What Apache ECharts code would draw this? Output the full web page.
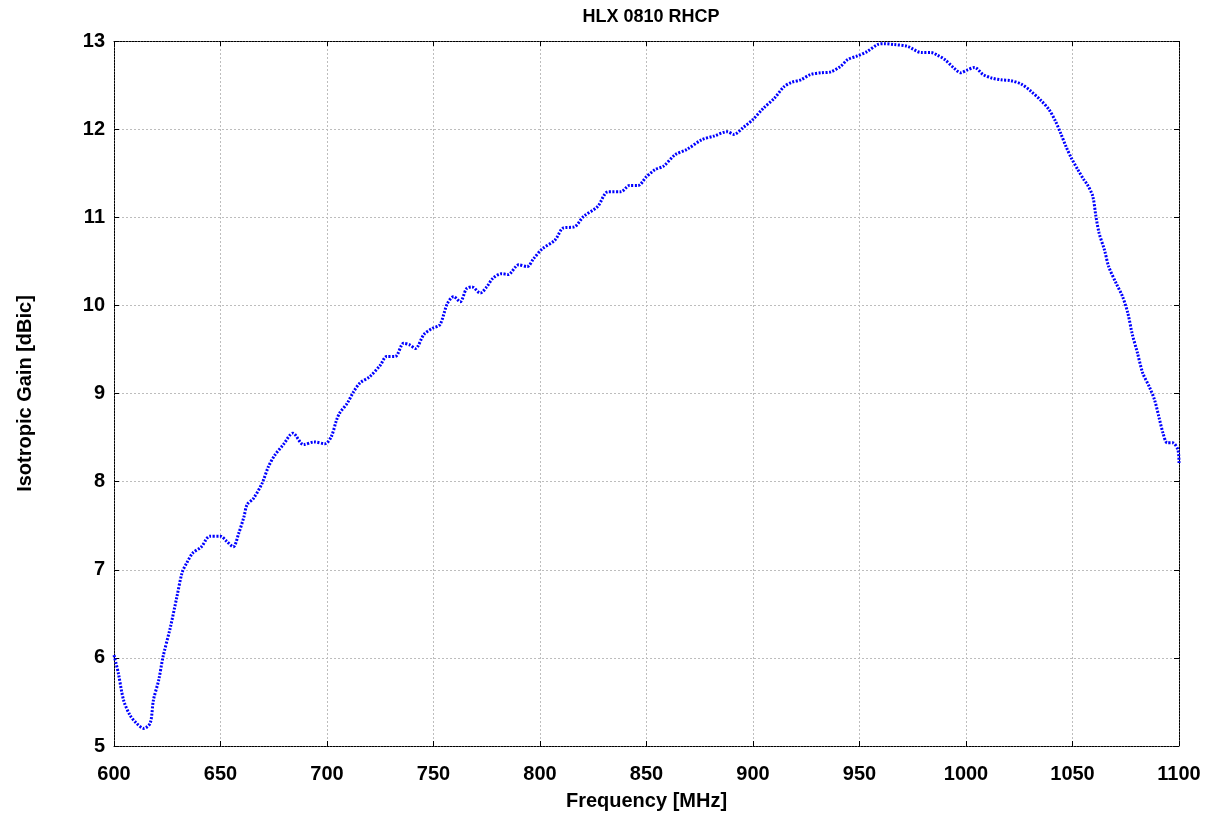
<!DOCTYPE html>
<html>
<head>
<meta charset="utf-8">
<title>HLX 0810 RHCP</title>
<script src="https://cdn.jsdelivr.net/npm/echarts@6/dist/echarts.min.js"></script>
<style>
    html, body { margin: 0; padding: 0; background: #fff; }
    #chart { width: 1218px; height: 817px; }
</style>
</head>
<body>
<div id="chart"></div>
<script>
const freqs = [
    600, 602, 604.5, 607.5, 610.5, 614, 617, 618.5, 621, 623, 626.5, 629.5, 632, 634, 637, 641, 645, 650,
    653, 656, 658.5, 661, 662.5, 665.5, 669.5, 672.5, 675.5, 679.5, 684, 689, 694, 699, 702, 704.5,
    706, 709.5, 712.5, 715.5, 720, 725, 728, 732, 736, 739, 741.5, 745.5, 749.5, 753, 756.5, 759.5,
    762.5, 765.5, 768, 772, 775, 778, 782, 785, 790, 794, 797, 801, 807, 811, 816, 820.5, 827, 832,
    838, 842, 846, 850, 854, 858, 863.5, 869, 876, 881.5, 888, 891, 895.5, 900, 905, 910, 914.5, 918,
    922.5, 927, 932, 936.5, 941, 944.5, 949, 953.5, 958.5, 961.5, 966, 972.5, 979, 983.5, 986.5, 990,
    994.5, 997.5, 1000.5, 1004, 1008, 1012, 1016.5, 1021, 1026, 1030.5, 1035, 1039, 1042, 1044.5,
    1047, 1049.5, 1052.5, 1055.5, 1057, 1059.5, 1061, 1062.5, 1065, 1067, 1070.5, 1073.5, 1076, 1078,
    1080.5, 1083, 1086, 1088.5, 1090.5, 1092.5, 1094.5, 1097, 1099.5, 1100
];
const gains = [
    6.03, 5.83, 5.52, 5.35, 5.26, 5.20, 5.26, 5.52, 5.75, 6.01, 6.35, 6.69, 6.97, 7.07, 7.19, 7.26, 7.38, 7.38,
    7.32, 7.26, 7.41, 7.60, 7.74, 7.81, 7.98, 8.17, 8.30, 8.42, 8.55, 8.42, 8.45, 8.43, 8.51, 8.70,
    8.78, 8.89, 9.02, 9.12, 9.19, 9.32, 9.42, 9.42, 9.57, 9.55, 9.51, 9.67, 9.74, 9.78, 10.02, 10.10,
    10.04, 10.19, 10.21, 10.14, 10.21, 10.31, 10.36, 10.35, 10.46, 10.44, 10.53, 10.64, 10.74, 10.88, 10.89, 11.01, 11.12, 11.29,
    11.29, 11.36, 11.36, 11.46, 11.54, 11.58, 11.71, 11.77, 11.88, 11.92, 11.97, 11.94, 12.02, 12.11, 12.24, 12.35, 12.48, 12.53,
    12.56, 12.62, 12.64, 12.65, 12.71, 12.79, 12.83, 12.88, 12.96, 12.97, 12.96, 12.94, 12.87, 12.87, 12.84, 12.79,
    12.69, 12.64, 12.67, 12.70, 12.62, 12.58, 12.56, 12.55, 12.51, 12.43, 12.33, 12.22, 12.09, 11.95,
    11.80, 11.67, 11.54, 11.42, 11.37, 11.24, 11.01, 10.82, 10.63, 10.44, 10.25, 10.10, 9.91, 9.68,
    9.46, 9.23, 9.08, 8.93, 8.74, 8.55, 8.44, 8.44, 8.36, 8.21
];

const chart = echarts.init(document.getElementById('chart'));
const font = 'Liberation Sans, Arial, sans-serif';
const labelStyle = { fontFamily: font, fontSize: 20, fontWeight: 'bold', color: '#000' };
const frameLine = { show: true, lineStyle: { color: '#000', width: 1, type: [2, 1] } };
const inTicks = { show: true, inside: true, length: 5, lineStyle: { color: '#000', width: 1 } };
const gridLine = { show: true, lineStyle: { color: '#bdbdbd', width: 1, type: [2, 2] } };

const option = {
    animation: false,
    backgroundColor: '#fff',
    title: {
        text: 'HLX 0810 RHCP',
        left: 646,
        textAlign: 'center',
        top: 3,
        textStyle: { fontFamily: font, fontSize: 18, fontWeight: 'bold', color: '#000' }
    },
    grid: { left: 114, right: 39, top: 41, bottom: 71 },
    xAxis: [
        {
            type: 'value',
            min: 600,
            max: 1100,
            interval: 50,
            name: 'Frequency [MHz]',
            nameLocation: 'middle',
            nameGap: 45,
            nameTextStyle: labelStyle,
            axisLine: frameLine,
            axisTick: inTicks,
            axisLabel: Object.assign({ margin: 18, formatter: v => String(v) }, labelStyle),
            splitLine: gridLine
        },
        {
            type: 'value',
            position: 'top',
            min: 600,
            max: 1100,
            interval: 50,
            axisLine: frameLine,
            axisTick: inTicks,
            axisLabel: { show: false },
            splitLine: { show: false }
        }
    ],
    yAxis: [
        {
            type: 'value',
            min: 5,
            max: 13,
            interval: 1,
            name: 'Isotropic Gain [dBic]',
            nameLocation: 'middle',
            nameGap: 79,
            nameTextStyle: labelStyle,
            axisLine: frameLine,
            axisTick: inTicks,
            axisLabel: Object.assign({ margin: 9 }, labelStyle),
            splitLine: gridLine
        },
        {
            type: 'value',
            position: 'right',
            min: 5,
            max: 13,
            interval: 1,
            axisLine: frameLine,
            axisTick: inTicks,
            axisLabel: { show: false },
            splitLine: { show: false }
        }
    ],
    series: [
        {
            name: 'HLX 0810 RHCP',
            type: 'line',
            xAxisIndex: 0,
            yAxisIndex: 0,
            data: freqs.map((f, i) => [f, gains[i]]),
            showSymbol: false,
            smooth: 0.3,
            lineStyle: { color: '#0000ff', width: 3, type: [2, 1.5] }
        }
    ]
};

chart.setOption(option);
</script>
</body>
</html>
